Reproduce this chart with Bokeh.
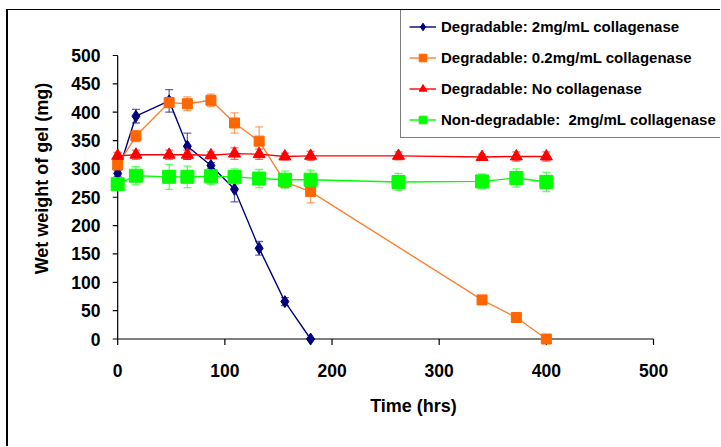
import math
from bokeh.plotting import figure
from bokeh.models import Range1d, FixedTicker, ColumnDataSource, Whisker, TeeHead, Legend, LegendItem
from bokeh.embed import file_html
from bokeh.resources import INLINE

# ---- data ----
blue_x = [0, 17, 48, 65, 87, 109, 132, 156, 180]
blue_y = [292, 393, 420, 340, 306, 264, 160, 66, 0]
blue_e = [5, 12, 20, 23, 5, 22, 12, 7, 0]

orange_x = [0, 17, 48, 65, 87, 109, 132, 156, 180, 340, 372, 400]
orange_y = [307, 358, 417, 415, 421, 381, 349, 277, 260, 69, 38, 0]
orange_e = [6, 10, 9, 12, 11, 18, 25, 10, 20, 0, 0, 0]

red_x = [0, 17, 48, 65, 87, 109, 132, 156, 180, 262, 340, 372, 400]
red_y = [323, 325, 325, 325, 324, 327, 326, 322, 323, 323, 321, 322, 322]
red_e = [6, 8, 8, 8, 6, 10, 9, 6, 8, 7, 5, 8, 8]

green_x = [0, 17, 48, 65, 87, 109, 132, 156, 180, 262, 340, 372, 400]
green_y = [273, 288, 286, 286, 287, 286, 283, 281, 281, 277, 278, 284, 277]
green_e = [8, 16, 22, 19, 14, 14, 16, 15, 17, 15, 13, 16, 17]

labels = ["Degradable: 2mg/mL collagenase",
          "Degradable: 0.2mg/mL collagenase",
          "Degradable: No collagenase",
          "Non-degradable:  2mg/mL collagenase"]

x_ticks = [0, 100, 200, 300, 400, 500]
y_ticks = [0, 50, 100, 150, 200, 250, 300, 350, 400, 450, 500]

FONT = "Liberation Sans"

p = figure(width=712, height=436, frame_width=614, frame_height=336,
           x_range=Range1d(-10.45, 562.5), y_range=Range1d(-13.2, 579.4),
           output_backend="svg", toolbar_location=None,
           min_border_left=98, min_border_right=0, min_border_top=0, min_border_bottom=100)
p.styles = {"border-left": "2px solid black", "border-top": "1px solid black",
            "margin-left": "6px", "margin-top": "9px"}
p.outline_line_color = None
p.xgrid.visible = False
p.ygrid.visible = False
p.background_fill_color = "white"
p.border_fill_color = "white"

# axis lines and tick marks drawn at data zero
p.segment(x0=[x_ticks[0], x_ticks[0]], y0=[y_ticks[0], y_ticks[0]],
          x1=[x_ticks[-1], x_ticks[0]], y1=[y_ticks[0], y_ticks[-1]],
          line_color="black", line_width=1.2)
p.ray(x=x_ticks, y=[y_ticks[0]] * len(x_ticks), length=6, length_units="screen",
      angle=-math.pi / 2, line_color="black", line_width=1.2)
p.ray(x=[x_ticks[0]] * len(y_ticks), y=y_ticks, length=5, length_units="screen",
      angle=math.pi, line_color="black", line_width=1.2)

series = [
    (blue_x, blue_y, blue_e, "#000080", "diamond", 12, "#000080"),
    (orange_x, orange_y, orange_e, "#FF6600", "square", 10, "#FF8030"),
    (red_x, red_y, red_e, "#FF0000", "triangle", 12, "#FF0000"),
    (green_x, green_y, green_e, "#00FF00", "square", 13, "#00FF00"),
]

items = []
for (xs, ys, es, col, mk, sz, lcol), lab in zip(series, labels):
    src = ColumnDataSource(dict(x=xs, y=ys, lo=[a - b for a, b in zip(ys, es)],
                                hi=[a + b for a, b in zip(ys, es)]))
    w = Whisker(base="x", upper="hi", lower="lo", source=src,
                line_color=col, line_alpha=0.6, line_width=1.3,
                upper_head=TeeHead(size=8, line_color=col, line_alpha=0.6, line_width=1.3),
                lower_head=TeeHead(size=8, line_color=col, line_alpha=0.6, line_width=1.3))
    p.add_layout(w)
    r1 = p.line("x", "y", source=src, line_color=lcol, line_width=1.4)
    r2 = p.scatter("x", "y", source=src, marker=mk, size=sz, fill_color=col, line_color=col)
    items.append(LegendItem(label=lab, renderers=[r1, r2]))

legend = Legend(items=items, location=(294, 208), orientation="vertical",
                label_text_font=FONT, label_text_font_style="bold", label_text_font_size="15px",
                label_text_color="black", glyph_width=27, glyph_height=19, label_height=19,
                spacing=12, padding=8, margin=0, label_standoff=5,
                border_line_color="black", border_line_width=1.5,
                background_fill_color="white", background_fill_alpha=1)
p.add_layout(legend, "center")

for ax in (p.xaxis[0], p.yaxis[0]):
    ax.axis_line_color = None
    ax.major_tick_line_color = None
    ax.minor_tick_line_color = None
    ax.major_tick_in = 0
    ax.major_tick_out = 0
    ax.major_label_text_font = FONT
    ax.major_label_text_font_style = "bold"
    ax.major_label_text_font_size = "17.5px"
    ax.major_label_text_color = "black"
    ax.axis_label_text_font = FONT
    ax.axis_label_text_font_style = "bold"
    ax.axis_label_text_font_size = "18px"
    ax.axis_label_text_color = "black"

p.xaxis.ticker = FixedTicker(ticks=x_ticks)
p.yaxis.ticker = FixedTicker(ticks=y_ticks)
p.xaxis.axis_label = "Time (hrs)"
p.yaxis.axis_label = "Wet weight of gel (mg)"
p.xaxis.major_label_standoff = 17
p.yaxis.major_label_standoff = 6
p.xaxis.axis_label_standoff = 16
p.yaxis.axis_label_standoff = 16

open("out.html", "w").write(file_html(p, INLINE))
